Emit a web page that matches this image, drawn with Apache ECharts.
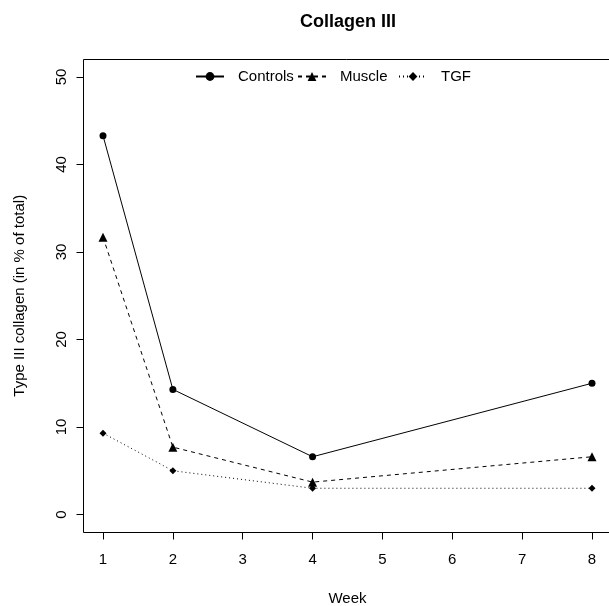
<!DOCTYPE html>
<html>
<head>
<meta charset="utf-8">
<script src="https://cdn.jsdelivr.net/npm/echarts@6/dist/echarts.min.js"></script>
<style>html,body{margin:0;padding:0;background:#fff;}#c{width:609px;height:606px;}</style>
</head>
<body>
<div id="c"></div>
<script>
const weeks = [1, 2, 4, 8];
const controls = [43.3, 14.3, 6.6, 15.0];
const muscle = [31.7, 7.7, 3.7, 6.6];
const tgf = [9.3, 5.0, 3.0, 3.0];
const xTicks = [1, 2, 3, 4, 5, 6, 7, 8];
const yTicks = [0, 10, 20, 30, 40, 50];

const FONT = '"Liberation Sans", Arial, Helvetica, sans-serif';
const pairs = v => weeks.map((w, i) => [w, v[i]]);

const chart = echarts.init(document.getElementById('c'), null, {renderer: 'canvas'});
const legendBase = {
  top: 69, orient: 'horizontal', itemWidth: 28, itemHeight: 11, padding: 0,
  textStyle: {fontFamily: FONT, fontSize: 15, color: '#000', padding: [0, 0, 0, 9]},
  inactiveColor: '#000'
};
chart.setOption({
  animation: false,
  backgroundColor: '#fff',
  title: {
    text: 'Collagen III', left: 300, top: 13, padding: 0,
    textStyle: {fontFamily: FONT, fontSize: 18, fontWeight: 'bold', color: '#000'}
  },
  legend: [
    Object.assign({}, legendBase, {left: 195, data: ['Controls']}),
    Object.assign({}, legendBase, {left: 297, data: ['Muscle']}),
    Object.assign({}, legendBase, {left: 398, data: ['TGF']})
  ],
  graphic: [{
    type: 'rect', shape: {x: 83.5, y: 59.5, width: 528, height: 473},
    style: {fill: 'none', stroke: '#000', lineWidth: 1}, silent: true, z: 0
  }],
  grid: {left: 103, top: 77, width: 489, height: 437.5, containLabel: false, outerBoundsMode: 'none'},
  xAxis: {
    type: 'value', min: xTicks[0], max: xTicks[xTicks.length - 1], interval: 1,
    offset: 18,
    name: 'Week', nameLocation: 'middle', nameGap: 59,
    nameTextStyle: {fontFamily: FONT, fontSize: 15, color: '#000'},
    axisLine: {show: true, onZero: false, lineStyle: {color: '#000', width: 1}},
    axisTick: {show: true, length: 7, inside: false, lineStyle: {color: '#000'}},
    axisLabel: {margin: 20, fontFamily: FONT, fontSize: 15, color: '#000',
      formatter: v => xTicks.includes(v) ? String(v) : ''},
    splitLine: {show: false}
  },
  yAxis: {
    type: 'value', min: yTicks[0], max: yTicks[yTicks.length - 1], interval: 10,
    offset: 19.5,
    name: 'Type III collagen (in % of total)', nameLocation: 'middle', nameGap: 56,
    nameTextStyle: {fontFamily: FONT, fontSize: 15, color: '#000'},
    axisLine: {show: true, onZero: false, lineStyle: {color: '#000', width: 1}},
    axisTick: {show: true, length: 7, lineStyle: {color: '#000'}},
    axisLabel: {rotate: 90, margin: 14, fontFamily: FONT, fontSize: 15, color: '#000'},
    splitLine: {show: false}
  },
  series: [
    {name: 'Controls', type: 'line', data: pairs(controls), symbol: 'circle', symbolSize: 7,
     itemStyle: {color: '#000'}, lineStyle: {color: '#000', width: 1, type: 'solid'}},
    {name: 'Muscle', type: 'line', data: pairs(muscle), symbol: 'triangle', symbolSize: 9,
     itemStyle: {color: '#000'}, lineStyle: {color: '#000', width: 1, type: [4, 4]}},
    {name: 'TGF', type: 'line', data: pairs(tgf), symbol: 'diamond', symbolSize: 7,
     itemStyle: {color: '#000'}, lineStyle: {color: '#000', width: 1, type: [1, 3]}}
  ]
});
</script>
</body>
</html>
